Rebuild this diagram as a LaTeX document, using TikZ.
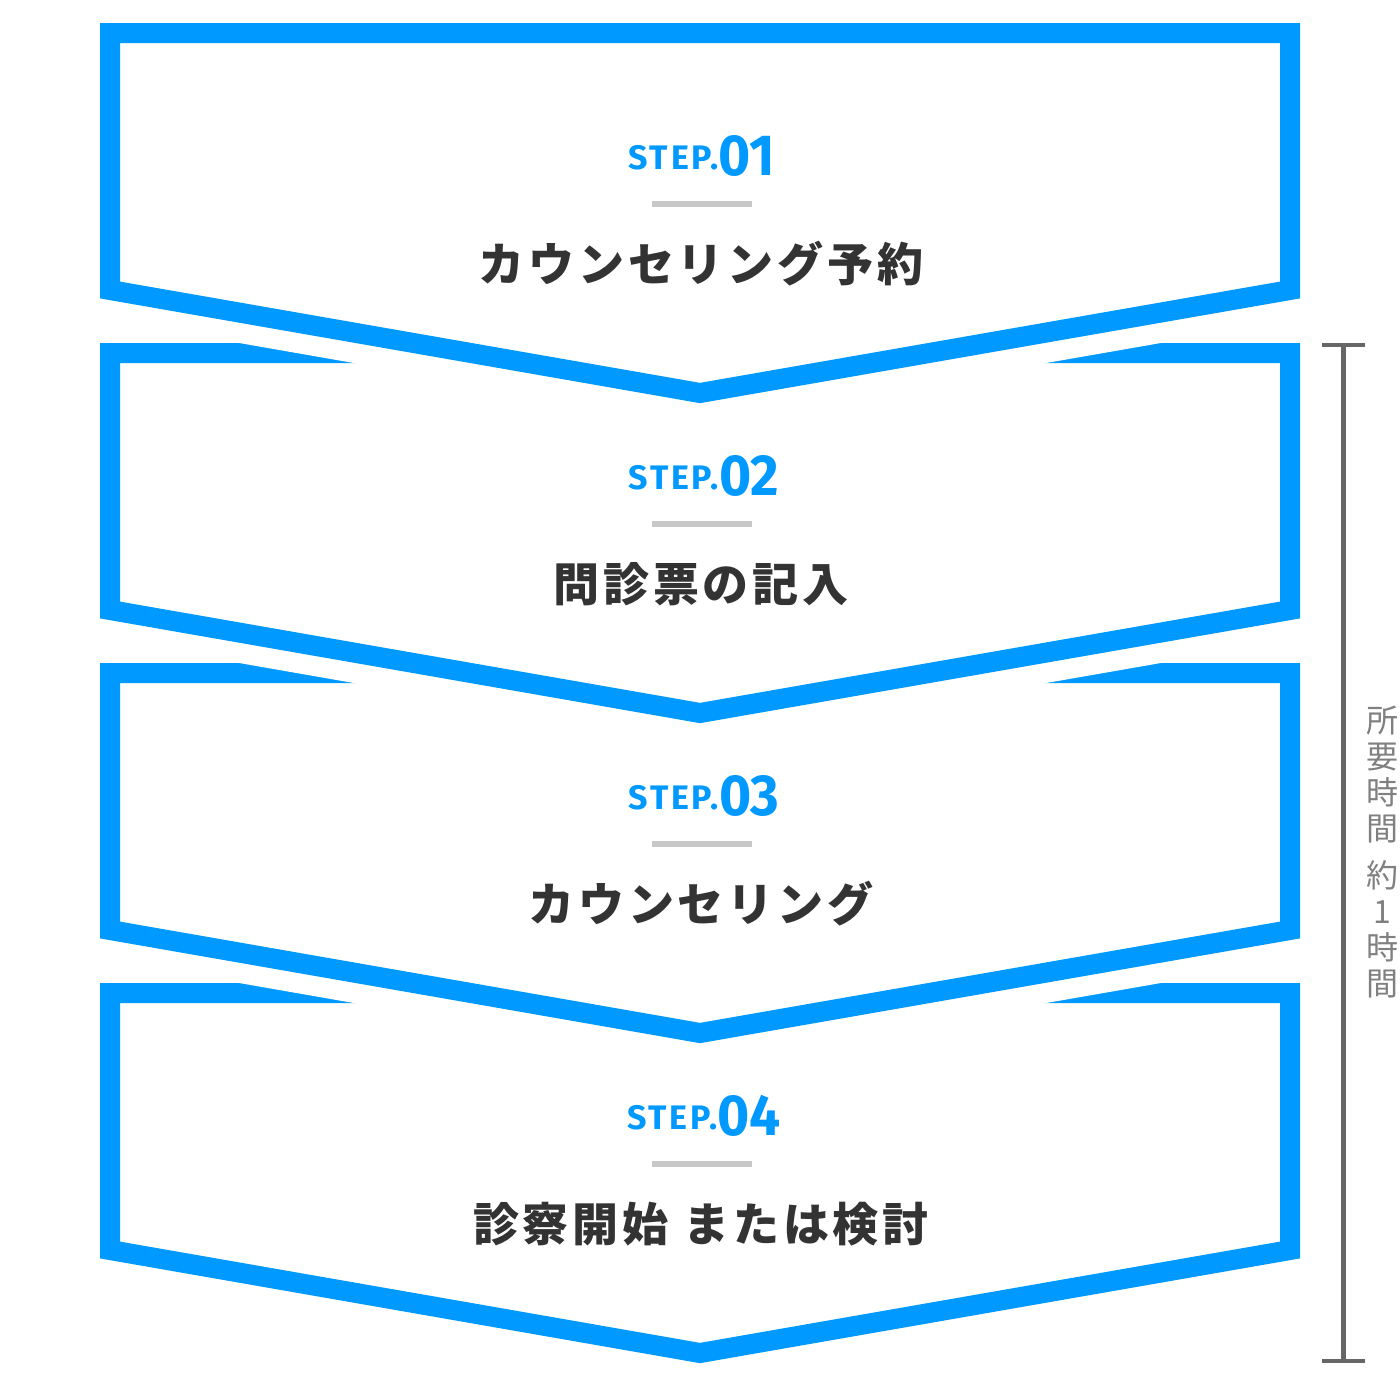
\documentclass[tikz,border=0pt]{standalone}
\usepackage{fontspec}
\newfontfamily\jp{Noto Sans CJK JP}
\newfontfamily\jptitle[LetterSpace=8.5]{Noto Sans CJK JP}
\newfontfamily\stepf[LetterSpace=8]{Fira Sans}
\newfontfamily\numf[FakeStretch=0.95]{Fira Sans}
\definecolor{stepblue}{HTML}{0099FF}
\definecolor{titlegray}{HTML}{333333}
\definecolor{rulegray}{HTML}{C8C8C8}
\definecolor{bracketgray}{HTML}{666666}
\definecolor{notegray}{HTML}{808080}
\newcommand{\steptext}[1]{{\stepf\bfseries\fontsize{34}{36}\selectfont STEP.}\raisebox{-6pt}{\numf\bfseries\fontsize{58}{60}\selectfont #1}}
\tikzset{
  boxhalo/.style={draw=white, line width=60pt, line join=miter, fill=white},
  boxline/.style={draw=stepblue, line width=20pt, line join=miter},
  steplabel/.style={inner sep=0pt, anchor=base, text=stepblue},
  steprule/.style={draw=rulegray, line width=6pt},
  titlelabel/.style={inner sep=0pt, text=titlegray, font=\jptitle\bfseries\fontsize{46}{50}\selectfont},
  bracket/.style={draw=bracketgray, line width=5pt},
}
\begin{document}
\begin{tikzpicture}[x=1pt,y=-1pt]
\useasboundingbox (0,0) rectangle (1400,1374);
\fill[white] (0,0) rectangle (1400,1374);
% boxes drawn bottom-up so each upper chevron cuts the box below
\foreach \k in {3,2,1,0}{
  \pgfmathsetmacro{\dy}{320*\k}
  \path[boxhalo] (110,33+\dy) -- (1290,33+\dy) -- (1290,290+\dy) -- (700,393+\dy) -- (110,290+\dy) -- cycle;
  \path[boxline] (110,33+\dy) -- (1290,33+\dy) -- (1290,290+\dy) -- (700,393+\dy) -- (110,290+\dy) -- cycle;
}
% step labels
\node[steplabel] (s1) at (702,169) {\steptext{01}};
\node[steplabel] (s2) at (704,489) {\steptext{02}};
\node[steplabel] (s3) at (704,809) {\steptext{03}};
\node[steplabel] (s4) at (704,1129) {\steptext{04}};
% rules
\foreach \k in {0,1,2,3}{
  \pgfmathsetmacro{\dy}{320*\k}
  \coordinate (ra\k) at (652,204+\dy);
  \coordinate (rb\k) at (752,204+\dy);
  \draw[steprule] (ra\k) -- (rb\k);
}
% titles
\node[titlelabel] (t1) at (701,264) {カウンセリング予約};
\node[titlelabel] (t2) at (701,584) {問診票の記入};
\node[titlelabel] (t3) at (701,904) {カウンセリング};
\node[titlelabel] (t4) at (701,1224) {診察開始 または検討};
% bracket
\coordinate (bt) at (1343,345);
\coordinate (bb) at (1343,1361);
\coordinate (btl) at (1322,345);
\coordinate (btr) at (1365,345);
\coordinate (bbl) at (1322,1361);
\coordinate (bbr) at (1365,1361);
\draw[bracket] (bt) -- (bb);
\draw[bracket, line width=4pt] (btl) -- (btr);
\draw[bracket, line width=4pt] (bbl) -- (bbr);
% note
\node[inner sep=0pt, text=notegray, align=center, font=\jp\fontsize{32}{36}\selectfont, anchor=north] (note) at (1382,706) {所\\要\\時\\間\\[11pt]約\\1\\時\\間};
\end{tikzpicture}
\end{document}
